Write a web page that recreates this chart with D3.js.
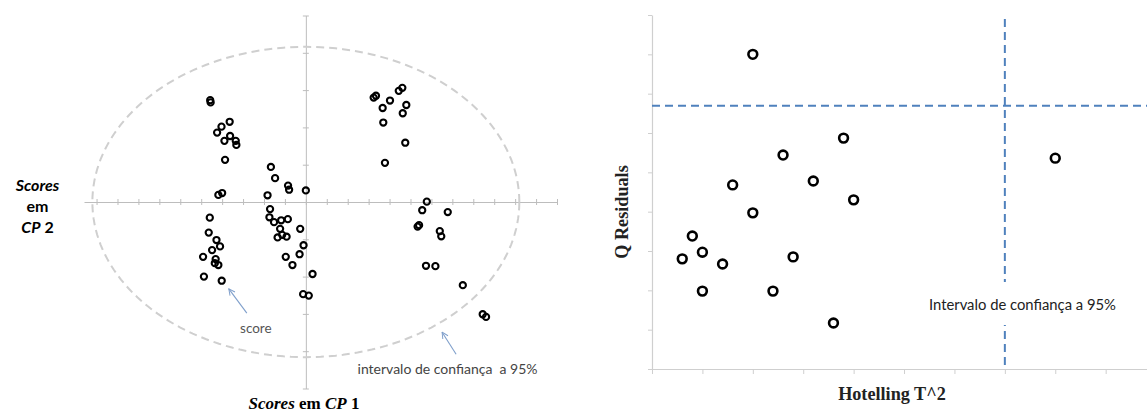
<!DOCTYPE html>
<html>
<head>
<meta charset="utf-8">
<script src="https://cdn.jsdelivr.net/npm/d3@7"></script>
<style>
  html, body { margin: 0; padding: 0; background: #fff; }
  svg { display: block; }
  text { white-space: pre; }
</style>
</head>
<body>
<svg id="chart" width="1147" height="412"></svg>
<script>
// PCA score plot: scores on the first two principal components
const cp1Scores = [
  -4.57, -4.55, -3.64, -4.03, -4.24, -3.62, -3.89, -3.35, -3.32, -3.86, -4.18, -4.00,
  -4.59, -4.64, -4.27, -4.10, -4.48, -4.91, -4.31, -4.35, -4.18, -4.87, -4.02,
  -1.67, -1.47, -0.85, -0.80, 0.00, -1.83, -1.71, -1.74, -1.52, -1.18, -0.86, -1.23,
  -0.27, -1.13, -1.35, -0.92, -0.11, -0.30, -0.96, -0.64, 0.32, -0.13, 0.14,
  3.24, 3.35, 4.44, 4.61, 4.02, 3.67, 4.80, 4.63, 3.70, 4.75, 3.78,
  5.78, 5.56, 6.78, 5.34, 5.41, 6.40, 6.47, 5.74, 6.19, 7.50, 8.45, 8.61
];
const cp2Scores = [
  2.73, 2.67, 2.15, 2.02, 1.86, 1.77, 1.64, 1.64, 1.53, 1.13, 0.19, 0.24,
  -0.42, -0.82, -1.02, -1.19, -1.29, -1.47, -1.53, -1.64, -1.69, -2.00, -2.11,
  0.94, 0.64, 0.44, 0.33, 0.31, 0.18, -0.19, -0.41, -0.54, -0.49, -0.46, -0.72,
  -0.72, -0.88, -0.95, -0.93, -1.16, -1.40, -1.47, -1.69, -1.93, -2.47, -2.51,
  2.80, 2.85, 2.98, 3.06, 2.72, 2.52, 2.60, 2.38, 2.13, 1.59, 1.05,
  0.01, -0.22, -0.27, -0.66, -0.62, -0.78, -0.92, -1.71, -1.72, -2.23, -3.01, -3.08
];
// 95% confidence ellipse semi-axes (score units)
const ellipseRadiusCP1 = 10.2;
const ellipseRadiusCP2 = 4.16;
const cp1TickValues = d3.range(-10, 13);
const cp2TickValues = d3.range(-5, 6);

// Influence plot: Hotelling T^2 against Q residuals
const hotellingT2 = [2.0, 3.8, 2.6, 8.0, 1.6, 3.2, 4.0, 2.0, 0.8, 1.0, 0.6, 1.4, 2.8, 1.0, 2.4, 3.6];
const qResiduals  = [8.0, 5.87, 5.44, 5.36, 4.68, 4.78, 4.3, 3.97, 3.38, 2.97, 2.8, 2.67, 2.85, 1.98, 1.98, 1.17];
const t2Limit = 7.0;
const qLimit = 6.69;
const t2TickValues = d3.range(0, 10);
const qTickValues = d3.range(0, 10);

const svg = d3.select("#chart");

/* ---------- left: score plot ---------- */
const xs = d3.scaleLinear().domain([-10.6, 12]).range([84, 557]);
const ys = d3.scaleLinear().domain([-5, 5]).range([388.5, 15.5]);
const axisGrey = "#bdbdbd";

const left = svg.append("g");

const gx = left.append("g")
  .attr("transform", `translate(0,${ys(0)})`)
  .call(d3.axisBottom(xs).tickValues(cp1TickValues).tickFormat("").tickSizeOuter(0));
const gy = left.append("g")
  .attr("transform", `translate(${xs(0)},0)`)
  .call(d3.axisLeft(ys).tickValues(cp2TickValues).tickFormat("").tickSizeOuter(0));
[gx, gy].forEach(g => {
  g.select(".domain").attr("stroke", axisGrey);
  g.selectAll(".tick line").attr("stroke", axisGrey);
});
gx.selectAll(".tick line").attr("y1", -3).attr("y2", 3);
gy.selectAll(".tick line").attr("x1", -3).attr("x2", 3);

// confidence ellipse
const ellipsePts = d3.range(0, 361, 2).map(a => {
  const t = a * Math.PI / 180;
  return [ellipseRadiusCP1 * Math.cos(t), ellipseRadiusCP2 * Math.sin(t)];
});
left.append("path")
  .attr("d", d3.line().x(d => xs(d[0])).y(d => ys(d[1]))(ellipsePts))
  .attr("fill", "none")
  .attr("stroke", "#cfcfcf")
  .attr("stroke-width", 2)
  .attr("stroke-dasharray", "8,5");

left.append("g").selectAll("circle")
  .data(cp1Scores.map((v, i) => [v, cp2Scores[i]]))
  .join("circle")
  .attr("cx", d => xs(d[0]))
  .attr("cy", d => ys(d[1]))
  .attr("r", 3.1)
  .attr("fill", "none")
  .attr("stroke", "#000")
  .attr("stroke-width", 2.1);

// annotations
const arrowBlue = "#7f9fcb";
svg.append("defs").append("marker")
  .attr("id", "chev").attr("viewBox", "0 0 10 10")
  .attr("refX", 9).attr("refY", 5)
  .attr("markerWidth", 7).attr("markerHeight", 7)
  .attr("orient", "auto")
  .append("path").attr("d", "M1,1 L9,5 L1,9")
  .attr("fill", "none").attr("stroke", arrowBlue).attr("stroke-width", 1.3);

function callout(tail, tip) {
  left.append("line")
    .attr("x1", xs(tail[0])).attr("y1", ys(tail[1]))
    .attr("x2", xs(tip[0])).attr("y2", ys(tip[1]))
    .attr("stroke", arrowBlue).attr("stroke-width", 1.1)
    .attr("marker-end", "url(#chev)");
}
callout([-2.82, -2.98], [-3.68, -2.33]);
callout([7.18, -4.08], [6.51, -3.49]);

const noteFont = "Lato, 'Open Sans', sans-serif";
left.append("text")
  .attr("x", xs(-2.39)).attr("y", ys(-3.51))
  .attr("text-anchor", "middle")
  .attr("font-family", noteFont).attr("font-size", 13.5).attr("fill", "#555")
  .text("score");
left.append("text")
  .attr("x", xs(6.77)).attr("y", ys(-4.6))
  .attr("text-anchor", "middle")
  .attr("font-family", noteFont).attr("font-size", 14).attr("fill", "#444")
  .text("intervalo de confiança  a 95%");

// axis titles
const yTitle = left.append("text")
  .attr("text-anchor", "middle")
  .attr("font-family", "Lato, 'Open Sans', sans-serif")
  .attr("font-weight", "bold").attr("font-size", 16).attr("fill", "#000");
yTitle.append("tspan").attr("x", 37.5).attr("y", 191).attr("font-style", "italic").text("Scores");
yTitle.append("tspan").attr("x", 37.5).attr("y", 212).text("em");
const cpLine = yTitle.append("tspan").attr("x", 37.5).attr("y", 233);
cpLine.append("tspan").attr("font-style", "italic").text("CP");
cpLine.append("tspan").text(" 2");

const xTitle = left.append("text")
  .attr("x", 304).attr("y", 409)
  .attr("text-anchor", "middle")
  .attr("font-family", "'Liberation Serif', serif")
  .attr("font-weight", "bold").attr("font-size", 17).attr("fill", "#000");
xTitle.append("tspan").attr("font-style", "italic").text("Scores");
xTitle.append("tspan").text(" em ");
xTitle.append("tspan").attr("font-style", "italic").text("CP");
xTitle.append("tspan").text(" 1");

/* ---------- right: T^2 vs Q residuals ---------- */
const xr = d3.scaleLinear().domain([0, 9.82]).range([652, 1147]);
const yr = d3.scaleLinear().domain([0, 9]).range([369, 15]);
const right = svg.append("g");
const lightGrey = "#cfcfcf";

const rx = right.append("g")
  .attr("transform", `translate(0,${yr(0)})`)
  .call(d3.axisBottom(xr).tickValues(t2TickValues).tickFormat("").tickSize(5).tickSizeOuter(0));
const ry = right.append("g")
  .attr("transform", `translate(${xr(0)},0)`)
  .call(d3.axisLeft(yr).tickValues(qTickValues).tickFormat("").tickSize(4).tickSizeOuter(0));
[rx, ry].forEach(g => {
  g.select(".domain").attr("stroke", lightGrey).attr("stroke-width", 1.2);
  g.selectAll(".tick line").attr("stroke", lightGrey);
});

const limitBlue = "#4f81bd";
right.append("line")
  .attr("x1", xr(0)).attr("x2", xr(9.82))
  .attr("y1", yr(qLimit)).attr("y2", yr(qLimit))
  .attr("stroke", limitBlue).attr("stroke-width", 2).attr("stroke-dasharray", "8,5");
right.append("line")
  .attr("x1", xr(t2Limit)).attr("x2", xr(t2Limit))
  .attr("y1", yr(8.9)).attr("y2", yr(0))
  .attr("stroke", limitBlue).attr("stroke-width", 2).attr("stroke-dasharray", "8,5");

right.append("g").selectAll("circle")
  .data(hotellingT2.map((v, i) => [v, qResiduals[i]]))
  .join("circle")
  .attr("cx", d => xr(d[0]))
  .attr("cy", d => yr(d[1]))
  .attr("r", 4.4)
  .attr("fill", "none")
  .attr("stroke", "#000")
  .attr("stroke-width", 2.6);

// label box for the confidence limit
const labelX = xr(7.35), labelY = yr(1.5);
right.append("rect")
  .attr("x", labelX - 100).attr("y", labelY - 28)
  .attr("width", 200).attr("height", 43)
  .attr("fill", "#fff");
right.append("text")
  .attr("x", labelX).attr("y", labelY)
  .attr("text-anchor", "middle")
  .attr("font-family", noteFont).attr("font-size", 14.8).attr("fill", "#222")
  .text("Intervalo de confiança a 95%");

right.append("text")
  .attr("x", 892).attr("y", 400)
  .attr("text-anchor", "middle")
  .attr("font-family", "'Liberation Serif', serif")
  .attr("font-weight", "bold").attr("font-size", 18.2).attr("fill", "#222")
  .text("Hotelling T^2");
right.append("text")
  .attr("transform", `translate(628,212) rotate(-90)`)
  .attr("text-anchor", "middle")
  .attr("font-family", "'Liberation Serif', serif")
  .attr("font-weight", "bold").attr("font-size", 18.2).attr("fill", "#222")
  .text("Q Residuals");
</script>
</body>
</html>
